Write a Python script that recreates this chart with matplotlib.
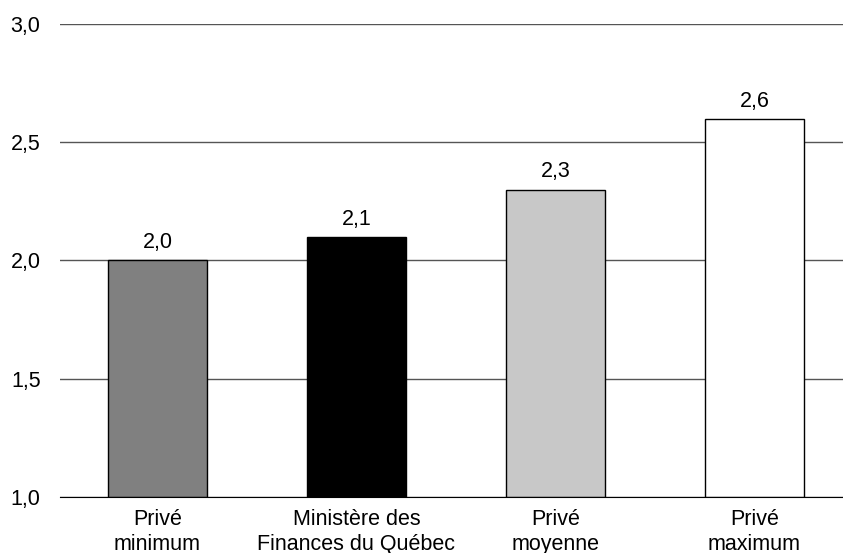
import matplotlib.pyplot as plt
import numpy as np

plt.rcParams['font.family'] = ['Liberation Sans', 'DejaVu Sans']

categories = ['Privé\nminimum', 'Ministère des\nFinances du Québec', 'Privé\nmoyenne', 'Privé\nmaximum']
values = [2.0, 2.1, 2.3, 2.6]
colors = ['#808080', '#000000', '#c8c8c8', '#ffffff']
yticks = [1.0, 1.5, 2.0, 2.5, 3.0]

fig = plt.figure(figsize=(8.43, 5.53), dpi=100)
ax = fig.add_axes([0.0712, 0.1013, 0.9288, 0.8553])

x = np.arange(len(categories))
ax.bar(x, np.array(values) - 1.0, bottom=1.0, width=0.5, color=colors,
       edgecolor='black', linewidth=1, zorder=3)

for xi, v in zip(x, values):
    ax.text(xi, v + 0.03, f'{v:.1f}'.replace('.', ','), ha='center', va='bottom', fontsize=15.5)

ax.set_ylim(1.0, 3.0)
ax.set_xlim(-0.49, 3.445)
ax.set_yticks(yticks)
ax.set_yticklabels([f'{t:.1f}'.replace('.', ',') for t in yticks], fontsize=15.5)
ax.set_xticks(x)
ax.set_xticklabels(categories, fontsize=15.5, linespacing=1.2)
ax.tick_params(axis='both', length=0)
ax.tick_params(axis='y', pad=14)
ax.tick_params(axis='x', pad=9)

ax.grid(axis='y', color='#555555', linewidth=1, zorder=0)
for s in ['top', 'right', 'left']:
    ax.spines[s].set_visible(False)
ax.spines['bottom'].set_color('black')
ax.spines['bottom'].set_zorder(4)

fig.savefig('out.png', dpi=100)
